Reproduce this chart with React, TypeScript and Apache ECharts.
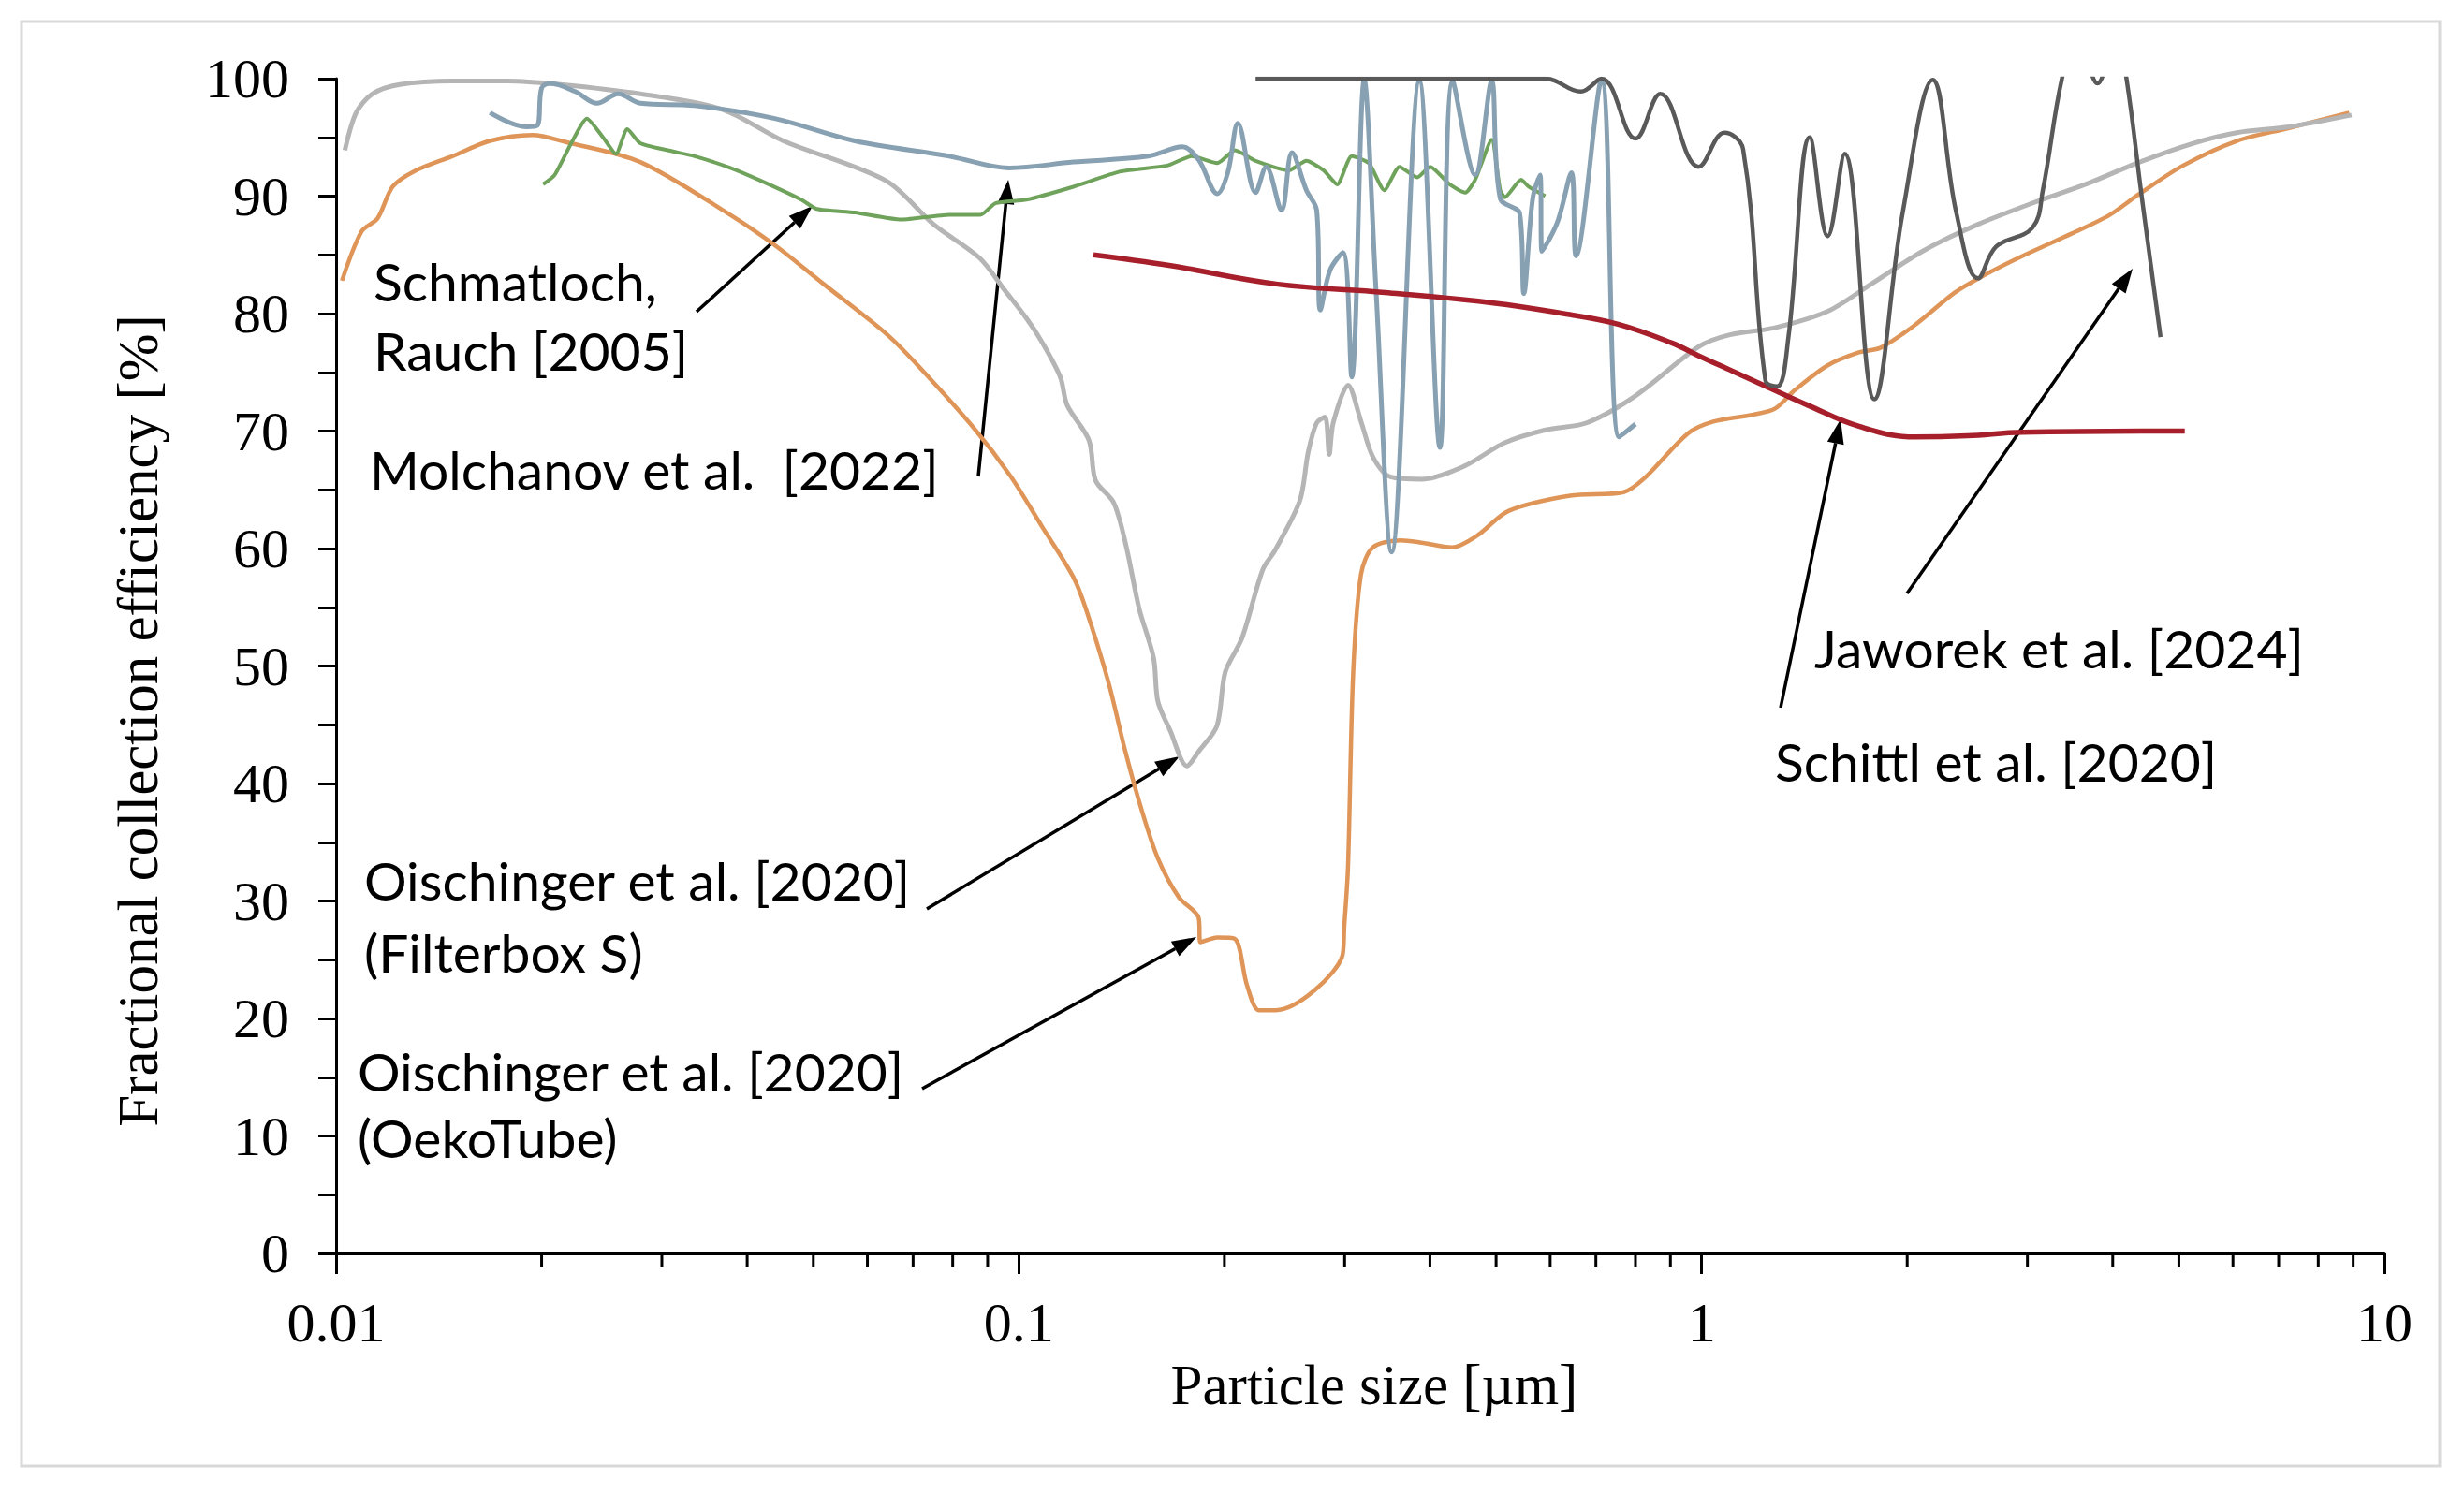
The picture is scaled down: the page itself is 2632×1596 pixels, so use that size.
import React, { useEffect, useRef } from "react";
import * as echarts from "echarts";

// ---------- data ----------
const xTickLabels = ["0.01", "0.1", "1", "10"];
const yTickLabels = ["0", "10", "20", "30", "40", "50", "60", "70", "80", "90", "100"];
const xMinorTicks = [0.02, 0.03, 0.04, 0.05, 0.06, 0.07, 0.08, 0.09, 0.2, 0.3, 0.4, 0.5, 0.6, 0.7, 0.8, 0.9, 2, 3, 4, 5, 6, 7, 8, 9];

const oischingerOekoTube: [number, number][] = [
  [0.0102, 82.8], [0.0109, 87.0], [0.0115, 88.1], [0.0121, 90.8], [0.013, 92.1], [0.0148, 93.4],
  [0.0168, 94.7], [0.0194, 95.2], [0.0217, 94.6], [0.0279, 92.9], [0.0378, 88.4], [0.0442, 85.7],
  [0.0518, 82.5], [0.0639, 78.3], [0.0711, 75.6], [0.0858, 70.3], [0.0974, 66.1], [0.1083, 61.8],
  [0.1201, 57.6], [0.1253, 54.9], [0.1353, 48.6], [0.1431, 42.8], [0.1512, 37.8], [0.1599, 33.6],
  [0.1716, 30.3], [0.1833, 28.6], [0.1845, 26.5], [0.1953, 26.9], [0.207, 26.8], [0.2159, 22.8],
  [0.2247, 20.7], [0.2379, 20.7], [0.2976, 25.3], [0.2996, 27.8], [0.3034, 32.8], [0.3088, 49.5],
  [0.317, 57.8], [0.33, 60.1], [0.3623, 60.7], [0.3889, 60.5], [0.4307, 60.1], [0.469, 61.1],
  [0.5213, 63.2], [0.642, 64.5], [0.769, 64.8], [0.825, 66.0], [0.955, 69.8], [1.04, 70.8],
  [1.19, 71.4], [1.28, 71.9], [1.37, 73.5], [1.53, 75.6], [1.7, 76.7], [1.83, 77.1], [2.05, 79.0],
  [2.35, 81.8], [2.6, 83.3], [2.95, 84.9], [3.48, 86.8], [3.96, 88.4], [4.38, 90.2], [5.07, 92.6],
  [6.08, 94.7], [7.25, 95.8], [8.88, 97.1],
];

const oischingerFilterbox: [number, number][] = [
  [0.0103, 93.9], [0.0107, 97.1], [0.0113, 98.7], [0.0124, 99.5], [0.0148, 99.8], [0.0178, 99.8],
  [0.0213, 99.5], [0.0279, 98.7], [0.0367, 97.4], [0.0452, 94.7], [0.0639, 91.3], [0.075, 87.6],
  [0.0877, 84.7], [0.0953, 82.0], [0.1026, 79.6], [0.1083, 77.5], [0.115, 74.6], [0.1177, 72.2],
  [0.1267, 69.2], [0.1295, 65.8], [0.1377, 63.9], [0.1436, 60.2], [0.15, 54.9], [0.1575, 50.7],
  [0.1598, 47.0], [0.1666, 44.5], [0.1762, 41.5], [0.1838, 42.8], [0.195, 44.9], [0.2006, 49.5],
  [0.2123, 52.4], [0.2276, 58.2], [0.2375, 59.9], [0.258, 64.1], [0.2653, 68.2], [0.273, 70.7],
  [0.2808, 71.2], [0.2848, 68.0], [0.2887, 70.7], [0.3034, 73.9], [0.3175, 70.7], [0.33, 67.8],
  [0.35, 66.1], [0.389, 65.9], [0.4486, 67.0], [0.5145, 69.0], [0.5908, 70.1], [0.6786, 70.7],
  [0.8, 73.0], [0.991, 77.2], [1.1, 78.2], [1.28, 78.8], [1.53, 80.2], [1.77, 82.5], [2.12, 85.4],
  [2.54, 87.6], [3.05, 89.4], [3.65, 91.0], [4.38, 92.9], [5.25, 94.5], [6.08, 95.4], [7.25, 95.9],
  [8.95, 96.9],
];

const schmatlochRauch: [number, number][] = [
  [0.0201, 91.0], [0.0209, 91.8], [0.0221, 94.5], [0.0233, 96.6], [0.0246, 95.0], [0.0257, 93.6],
  [0.0267, 95.7], [0.0279, 94.5], [0.0306, 93.9], [0.0335, 93.4], [0.0378, 92.4], [0.0419, 91.3],
  [0.048, 89.7], [0.0506, 88.9], [0.0575, 88.6], [0.0673, 88.0], [0.0791, 88.4], [0.0878, 88.4],
  [0.0924, 89.4], [0.1026, 89.7], [0.1202, 90.8], [0.1409, 92.1], [0.1649, 92.6], [0.179, 93.4],
  [0.1953, 92.8], [0.2072, 93.9], [0.2222, 93.0], [0.2487, 92.2], [0.2637, 93.0], [0.2794, 92.2],
  [0.2926, 91.0], [0.3073, 93.4], [0.3256, 92.8], [0.343, 90.5], [0.361, 92.5], [0.3832, 91.6],
  [0.4003, 92.5], [0.4275, 91.0], [0.4506, 90.3], [0.466, 91.4], [0.4924, 94.8], [0.507, 90.5],
  [0.515, 89.9], [0.544, 91.4], [0.558, 90.8], [0.59, 90.0],
];

const molchanov: [number, number][] = [
  [0.0168, 97.1], [0.019, 95.9], [0.0197, 96.0], [0.02, 99.2], [0.0206, 99.6], [0.0224, 98.9],
  [0.0241, 97.9], [0.0259, 98.7], [0.0279, 97.9], [0.0335, 97.7], [0.0439, 96.6], [0.0575, 94.7],
  [0.0791, 93.4], [0.0967, 92.4], [0.1202, 92.9], [0.1547, 93.4], [0.1735, 94.2], [0.1833, 93.1],
  [0.1953, 90.2], [0.2023, 92.0], [0.2093, 96.2], [0.2222, 90.3], [0.2303, 92.5], [0.2425, 88.8],
  [0.2512, 93.7], [0.2637, 90.5], [0.273, 88.8], [0.2764, 80.3], [0.2856, 83.7], [0.2983, 85.2],
  [0.3073, 74.6], [0.3205, 99.9], [0.3335, 82.0], [0.3515, 59.7], [0.386, 99.8], [0.4137, 68.6],
  [0.432, 99.8], [0.466, 91.8], [0.4924, 99.8], [0.507, 89.8], [0.5415, 88.5], [0.549, 81.7],
  [0.5657, 89.8], [0.58, 91.8], [0.5835, 85.3], [0.615, 87.8], [0.6446, 92.0], [0.6547, 84.9],
  [0.7133, 99.9], [0.757, 69.5], [0.8, 70.6],
];

const schittl: [number, number][] = [
  [0.1286, 85.0], [0.166, 84.1], [0.2395, 82.5], [0.3437, 81.8], [0.4954, 80.9], [0.6275, 80.0],
  [0.7546, 79.1], [0.9045, 77.5], [0.991, 76.4], [1.11, 75.1], [1.19, 74.3], [1.43, 72.2],
  [1.7, 70.4], [2.05, 69.5], [2.45, 69.6], [2.95, 69.9], [5.1, 70.0],
];

const jaworek: [number, number][] = [
  [0.2222, 100], [0.518, 100], [0.5908, 100], [0.665, 98.9], [0.7133, 100], [0.8, 94.9],
  [0.87, 98.7], [0.99, 92.5], [1.08, 95.4], [1.15, 94.0], [1.24, 74.3], [1.29, 73.8], [1.34, 78.0],
  [1.44, 95.0], [1.53, 86.6], [1.62, 93.6], [1.79, 72.7], [1.97, 88.6], [2.18, 99.9], [2.36, 88.6],
  [2.54, 83.0], [2.7, 85.7], [3.05, 87.3], [3.16, 90.5], [3.37, 100], [3.55, 104], [3.8, 99.6],
  [4.05, 104], [4.19, 100], [4.41, 90.0], [4.7, 78.0],
];

// ---------- helpers (page px -> chart px) ----------
const OFF = 8;
const P = (v: number) => v - OFF;
const SANS = "Lato";
const SERIF = "'Liberation Serif', 'Times New Roman', serif";

function arrow(x1: number, y1: number, x2: number, y2: number) {
  const ax1 = P(x1), ay1 = P(y1), ax2 = P(x2), ay2 = P(y2);
  const a = Math.atan2(ay2 - ay1, ax2 - ax1);
  const L = 26, W = 9;
  const bx = ax2 - L * Math.cos(a), by = ay2 - L * Math.sin(a);
  const px = -Math.sin(a) * W, py = Math.cos(a) * W;
  return [
    { type: "line", silent: true, shape: { x1: ax1, y1: ay1, x2: bx, y2: by }, style: { stroke: "#000", lineWidth: 3.5 } },
    { type: "polygon", silent: true, shape: { points: [[ax2, ay2], [bx + px, by + py], [bx - px, by - py]] }, style: { fill: "#000" } },
  ];
}

function label(text: string, x: number, y: number) {
  return {
    type: "text",
    silent: true,
    x: P(x),
    y: P(y),
    style: { text, fill: "#000", fontSize: 57, fontFamily: SANS, align: "left", verticalAlign: "middle", textAlign: "left", textVerticalAlign: "middle" },
  };
}

function lineSeries(name: string, data: [number, number][], color: string, width: number, smooth: number | boolean) {
  return {
    name,
    type: "line",
    data,
    symbol: "none",
    showSymbol: false,
    smooth,
    clip: true,
    lineStyle: { color, width },
    silent: true,
  };
}

export default function App() {
  const ref = useRef<HTMLDivElement>(null);
  useEffect(() => {
    if (!ref.current) return;
    const chart = echarts.init(ref.current, null, { renderer: "svg" });
    const option: any = {
      animation: false,
      backgroundColor: "#fff",
      grid: { left: 351, right: 77, top: 76, bottom: 249, containLabel: false },
      xAxis: {
        type: "log",
        logBase: 10,
        min: 0.01,
        max: 10,
        axisLine: { show: true, lineStyle: { color: "#000", width: 3 } },
        axisTick: { show: true, inside: false, length: 22, lineStyle: { color: "#000", width: 3 } },
        axisLabel: {
          color: "#000",
          fontSize: 60,
          fontFamily: SERIF,
          margin: 44,
          formatter: (v: number) => {
            const i = Math.round(Math.log10(v)) + 2;
            return xTickLabels[i] ?? "";
          },
        },
        splitLine: { show: false },
      },
      yAxis: {
        type: "value",
        min: 0,
        max: 100,
        interval: 5,
        axisLine: { show: true, lineStyle: { color: "#000", width: 3 } },
        axisTick: { show: true, inside: false, length: 19, lineStyle: { color: "#000", width: 3 } },
        axisLabel: {
          color: "#000",
          fontSize: 60,
          fontFamily: SERIF,
          margin: 50,
          formatter: (v: number) => (Math.round(v) % 10 === 0 ? yTickLabels[Math.round(v) / 10] : ""),
        },
        splitLine: { show: false },
      },
      series: [
        lineSeries("Oischinger et al. [2020] (OekoTube)", oischingerOekoTube, "#df9558", 4.5, 0.3),
        lineSeries("Oischinger et al. [2020] (Filterbox S)", oischingerFilterbox, "#b5b5b5", 5, 0.3),
        lineSeries("Schmatloch, Rauch [2005]", schmatlochRauch, "#6fa35b", 4, 0.2),
        lineSeries("Molchanov et al. [2022]", molchanov, "#87a1b3", 5, 0.35),
        lineSeries("Schittl et al. [2020]", schittl, "#a61f2b", 5.5, 0.4),
        lineSeries("Jaworek et al. [2024]", jaworek, "#595959", 4.5, 0.4),
        {
          name: "minor ticks",
          type: "custom",
          coordinateSystem: "cartesian2d",
          silent: true,
          clip: false,
          data: xMinorTicks.map((v) => [v, 0]),
          renderItem: (params: any, api: any) => {
            const p = api.coord([api.value(0), 0]);
            return {
              type: "line",
              shape: { x1: p[0], y1: p[1], x2: p[0], y2: p[1] + 14 },
              style: { stroke: "#000", lineWidth: 3 },
            };
          },
        },
      ],
      graphic: [
        {
          type: "rect",
          silent: true,
          shape: { x: 15, y: 15, width: 2583, height: 1543 },
          style: { fill: "none", stroke: "#d9d9d9", lineWidth: 3 },
          z: -10,
        },
        {
          type: "text",
          silent: true,
          x: P(147),
          y: P(770),
          rotation: Math.PI / 2,
          style: { text: "Fractional collection efficiency [%]", fill: "#000", fontSize: 61, fontFamily: SERIF, align: "center", verticalAlign: "middle", textAlign: "center", textVerticalAlign: "middle" },
        },
        {
          type: "text",
          silent: true,
          x: P(1468),
          y: P(1479),
          style: { text: "Particle size [µm]", fill: "#000", fontSize: 61, fontFamily: SERIF, align: "center", verticalAlign: "middle", textAlign: "center", textVerticalAlign: "middle" },
        },
        label("Schmatloch,", 399, 300),
        label("Rauch [2005]", 399, 374),
        label("Molchanov et al.  [2022]", 395, 501),
        label("Oischinger et al. [2020]", 389, 940),
        label("(Filterbox S)", 389, 1017),
        label("Oischinger et al. [2020]", 382, 1144),
        label("(OekoTube)", 382, 1215),
        label("Jaworek et al. [2024]", 1938, 692),
        label("Schittl et al. [2020]", 1896, 813),
        ...arrow(744, 333, 868, 220),
        ...arrow(1045, 509, 1077, 192),
        ...arrow(990, 971, 1260, 808),
        ...arrow(985, 1163, 1278, 1001),
        ...arrow(1902, 756, 1966, 448),
        ...arrow(2037, 634, 2278, 287),
      ],
    };
    chart.setOption(option);
    return () => chart.dispose();
  }, []);
  return <div ref={ref} style={{ width: 2616, height: 1580 }} />;
}
